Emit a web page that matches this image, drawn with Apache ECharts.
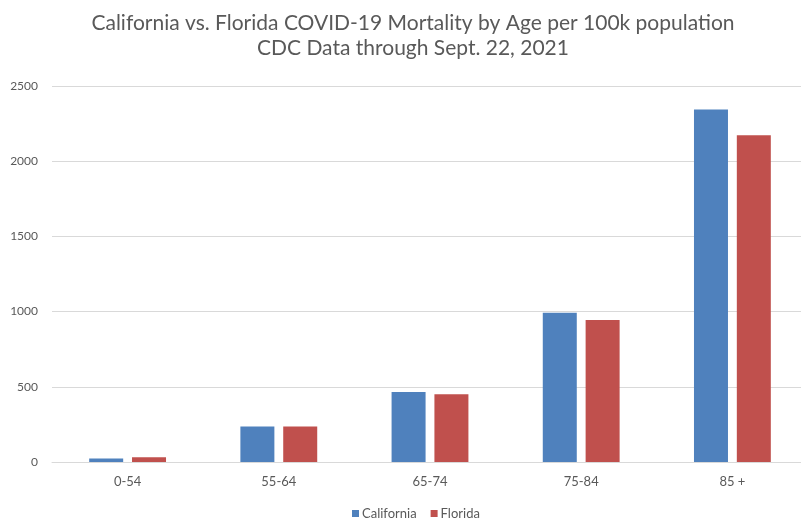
<!DOCTYPE html>
<html><head><meta charset="utf-8">
<script src="https://cdn.jsdelivr.net/npm/echarts@6/dist/echarts.min.js"></script>
<style>html,body{margin:0;padding:0;background:#fff}#c{width:801px;height:522px}</style>
</head><body><div id="c"></div>
<script>
const categories = ['0-54', '55-64', '65-74', '75-84', '85 +'];
const california = [23, 236, 466, 992, 2344];
const florida = [32, 236, 450, 944, 2173];
const yTicks = [0, 500, 1000, 1500, 2000, 2500];
const titleText = 'California vs. Florida COVID-19 Mortality by Age per 100k population\nCDC Data through Sept. 22, 2021';

const chart = echarts.init(document.getElementById('c'));
const font = 'Lato, "Open Sans", sans-serif';
chart.setOption({
  animation: false,
  title: {
    text: titleText, left: 408, top: 6, textAlign: 'center',
    textStyle: {fontFamily: font, fontSize: 21, fontWeight: 'normal', color: '#595959', lineHeight: 25}
  },
  legend: {
    top: 502, left: 347, itemWidth: 7, itemHeight: 7, itemGap: 14,
    icon: 'rect',
    textStyle: {fontFamily: font, fontSize: 13, color: '#595959', padding: [0, 0, 0, -2]},
    data: ['California', 'Florida']
  },
  grid: {left: 52, top: 86, width: 756, height: 376, containLabel: false, outerBoundsMode: 'none'},
  xAxis: {
    type: 'category', data: categories,
    axisLine: {lineStyle: {color: '#D9D9D9'}},
    axisTick: {show: false},
    axisLabel: {fontFamily: font, fontSize: 13, color: '#595959', margin: 13}
  },
  yAxis: {
    type: 'value', min: yTicks[0], max: yTicks[yTicks.length - 1], interval: 500,
    axisLine: {show: false}, axisTick: {show: false},
    splitLine: {lineStyle: {color: '#D9D9D9'}},
    axisLabel: {fontFamily: font, fontSize: 12, color: '#595959', margin: 14, formatter: v => String(v)}
  },
  series: [
    {name: 'California', type: 'bar', data: california, barWidth: 34, barGap: '26%', itemStyle: {color: '#4F81BD'}},
    {name: 'Florida', type: 'bar', data: florida, barWidth: 34, barGap: '26%', itemStyle: {color: '#C0504D'}}
  ]
});
</script></body></html>
